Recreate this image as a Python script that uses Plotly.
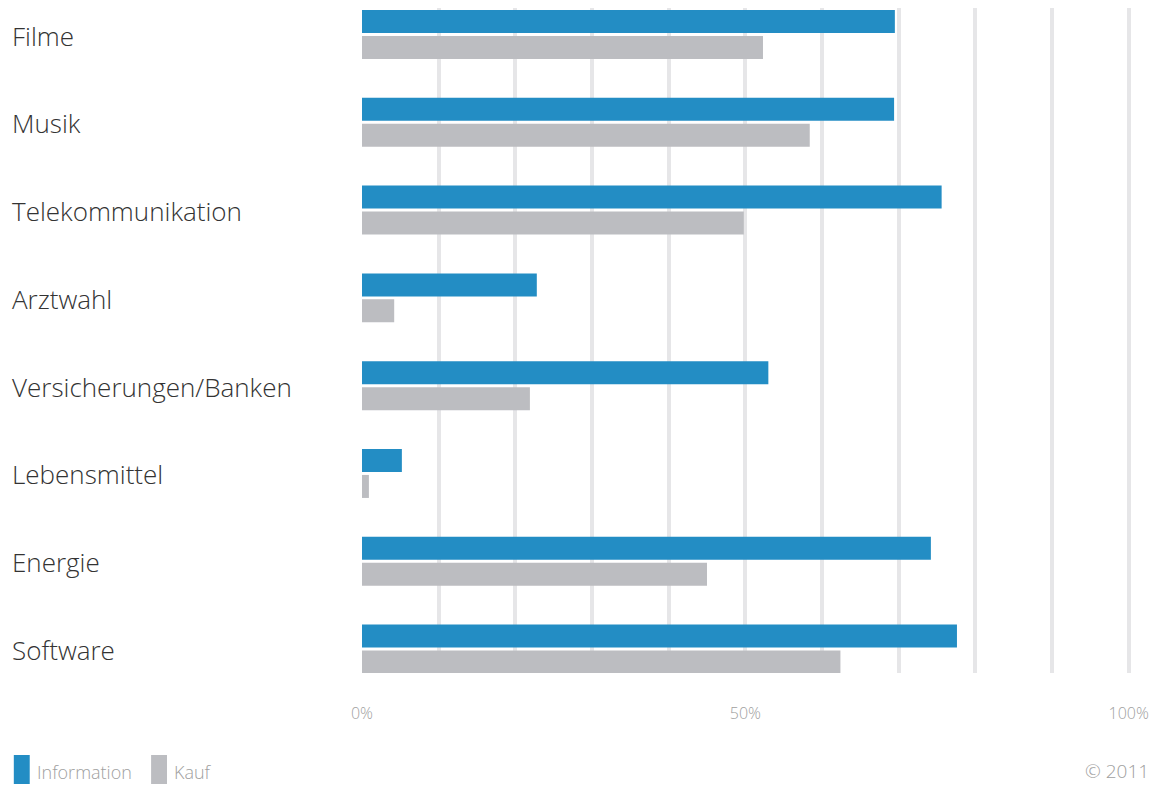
import plotly.graph_objects as go

categories = ["Filme", "Musik", "Telekommunikation", "Arztwahl",
              "Versicherungen/Banken", "Lebensmittel", "Energie", "Software"]
information = [69.5, 69.4, 75.6, 22.8, 53.0, 5.2, 74.2, 77.6]
kauf = [52.3, 58.4, 49.8, 4.2, 21.9, 0.9, 45.0, 62.4]
tick_values = list(range(0, 101, 10))
tick_labels = ["0%", "", "", "", "", "50%", "", "", "", "", "100%"]

BLUE = "#238dc4"
GREY = "#bcbdc1"
FONT = "Open Sans"
W, H = 1157, 785
L, R, T, B = 362, 22, 8, 112

pos = list(range(len(categories)))

fig = go.Figure()
fig.add_trace(go.Bar(y=pos, x=information, orientation="h", name="Information",
                     marker=dict(color=BLUE, line=dict(width=0))))
fig.add_trace(go.Bar(y=pos, x=kauf, orientation="h", name="Kauf",
                     marker=dict(color=GREY, line=dict(width=0))))

fig.update_layout(
    width=W, height=H,
    margin=dict(l=L, r=R, t=T, b=B, pad=0),
    paper_bgcolor="white", plot_bgcolor="white",
    barmode="group", bargap=0.408, bargroupgap=0.115,
    showlegend=False,
    font=dict(family=FONT, color="#999999"),
)
fig.update_xaxes(range=[0, 100.3], tickvals=tick_values, ticktext=tick_labels,
                 showgrid=True, gridcolor="#e6e6e8", gridwidth=4,
                 zeroline=False, showline=False, ticks="",
                 ticklabelstandoff=29,
                 tickfont=dict(family=FONT, size=16, color="#a0a0a0", weight=300))
fig.update_yaxes(range=[7.273, -0.302], showticklabels=False, showgrid=False,
                 zeroline=False, showline=False, ticks="")
fig.update_layout(xaxis_layer="below traces")

plot_w = W - L - R
plot_h = H - T - B


def px_x(v):
    return (v - L) / plot_w


def px_y(v):
    return 1 - (v - T) / plot_h


# category labels, left aligned at the page edge
for i, name in enumerate(categories):
    fig.add_annotation(x=px_x(8), xref="paper", y=i, yref="y", yshift=-1,
                       text=name, showarrow=False, xanchor="left", yanchor="middle",
                       font=dict(family=FONT, size=26, color="#333333", weight=300))

# legend swatches and labels
for x0, color, label in [(12, BLUE, "Information"), (150, GREY, "Kauf")]:
    fig.add_shape(type="rect", xref="paper", yref="paper",
                  x0=px_x(x0), x1=px_x(x0 + 16), y0=px_y(784), y1=px_y(755),
                  fillcolor=color, line=dict(width=0))
    fig.add_annotation(x=px_x(x0 + 21), xref="paper", y=px_y(772), yref="paper",
                       text=label, showarrow=False, xanchor="left", yanchor="middle",
                       font=dict(family=FONT, size=18, color="#a0a0a0", weight=300))

fig.add_annotation(x=px_x(1155), xref="paper", y=px_y(771), yref="paper",
                   text="© 2011", showarrow=False, xanchor="right", yanchor="middle",
                   font=dict(family=FONT, size=19, color="#a0a0a0", weight=300))

fig.write_html("out.html")
